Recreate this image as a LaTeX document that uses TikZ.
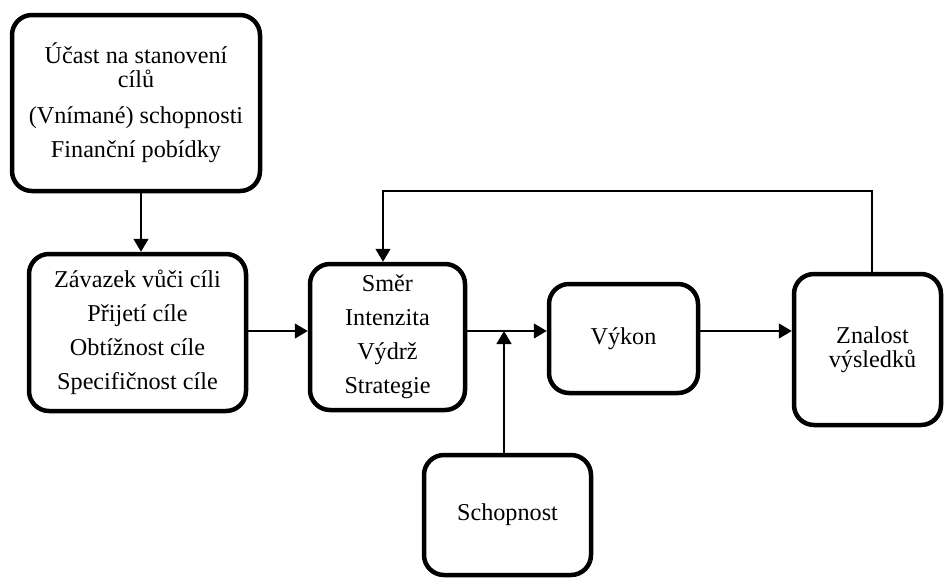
\documentclass[tikz,border=0pt]{standalone}
\usepackage{fontspec}
\setmainfont{Liberation Serif}
\usetikzlibrary{arrows.meta,calc}
\begin{document}
\begin{tikzpicture}[x=1pt,y=-1pt,
  box/.style={draw, line width=4.5pt, rounded corners=20pt, align=center, inner sep=0pt,
    font=\fontsize{24.2}{24}\selectfont},
  arr/.style={line width=1.4pt, -{Triangle[length=13pt,width=15pt]}},
  ln/.style={line width=1.4pt}]
\useasboundingbox (0,0) rectangle (944,579);
\node[box, minimum width=248pt, minimum height=176pt] (b1) at (136,103)
  {Účast na stanovení\\cílů\\[12pt](Vnímané) schopnosti\\[10pt]Finanční pobídky};
\node[box, minimum width=217pt, minimum height=157pt] (b2) at (137.5,332.5)
  {Závazek vůči cíli\\[10pt]Přijetí cíle\\[10pt]Obtížnost cíle\\[10pt]Specifičnost cíle};
\node[box, minimum width=155pt, minimum height=146pt] (b3) at (387.5,337)
  {Směr\\[10pt]Intenzita\\[10pt]Výdrž\\[10pt]Strategie};
\node[box, minimum width=149pt, minimum height=109pt] (b4) at (623.5,338.5) {Výkon};
\node[box, minimum width=147pt, minimum height=151pt] (b5) at (867.5,349.5) {\hspace*{10pt}Znalost\\\hspace*{10pt}výsledků};
\node[box, minimum width=167pt, minimum height=120pt] (b6) at (507.5,515) {Schopnost};
\coordinate (m) at (0,331);
\coordinate (j) at (504,331);
\coordinate (fb) at (0,191);
\draw[arr] ([xshift=5pt]b1.south) -- ([xshift=3.5pt]b2.north);
\draw[arr] (b2.east |- m) -- (b3.west |- m);
\draw[arr] (b3.east |- m) -- (b4.west |- m);
\draw[arr] (b4.east |- m) -- (b5.west |- m);
\draw[arr] (b6.north -| j) -- (j);
\draw[arr] ([xshift=4.5pt]b5.north) -- ([xshift=4.5pt]b5.north |- fb) -- ([xshift=-4.5pt]b3.north |- fb) -- ([xshift=-4.5pt]b3.north);
\end{tikzpicture}
\end{document}
